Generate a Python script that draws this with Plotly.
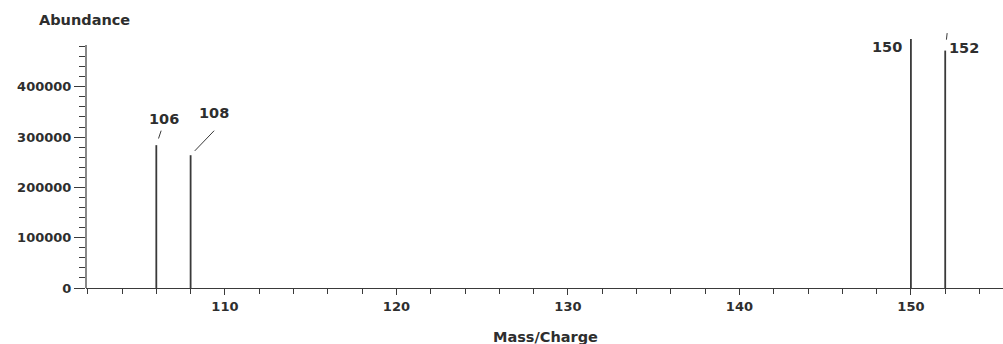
import plotly.graph_objects as go

# ---- data ----
mz = [106, 108, 150, 152]
abundance = [284000, 264000, 495000, 472000]
peak_labels = ["106", "108", "150", "152"]

x_major = [110, 120, 130, 140, 150]
x_minor = list(range(102, 156, 2))
y_major = [0, 100000, 200000, 300000, 400000]
y_minor = [v for v in range(20000, 500000, 20000) if v % 100000 != 0]

LINE = "#3a3a3a"
TXT = "#2e2e2e"
FONT = "DejaVu Sans"

xs, ys = [], []
for m, a in zip(mz, abundance):
    xs += [m, m, None]
    ys += [0, a, None]

fig = go.Figure()
fig.add_trace(go.Scatter(x=xs, y=ys, mode="lines",
                         line=dict(color=LINE, width=1.8),
                         hoverinfo="skip", showlegend=False))

# label placement (pixel offsets, styling only)
label_style = {
    "106": dict(xanchor="center", xshift=8, yshift=26),
    "108": dict(xanchor="center", xshift=23, yshift=42),
    "150": dict(xanchor="right", xshift=-7, yshift=-8),
    "152": dict(xanchor="left", xshift=2, yshift=3),
}
leader_style = {
    "106": dict(ax=5, ay=-15, standoff=7),
    "108": dict(ax=24, ay=-25, standoff=6),
    "152": dict(ax=2, ay=-18, standoff=11),
}

annotations = []
for m, a, lab in zip(mz, abundance, peak_labels):
    st = label_style[lab]
    annotations.append(dict(x=m, y=a, xref="x", yref="y", text="<b>" + lab + "</b>",
                            showarrow=False, yanchor="middle",
                            font=dict(family=FONT, size=14.5, color=TXT),
                            **st))
    if lab in leader_style:
        ls = leader_style[lab]
        annotations.append(dict(x=m, y=a, xref="x", yref="y", text="",
                                showarrow=True, arrowhead=0, arrowwidth=1,
                                arrowcolor=LINE, axref="pixel", ayref="pixel",
                                borderpad=0, **ls))

annotations.append(dict(x=-0.002, y=1.0635, xref="paper", yref="paper",
                        text="<b>Abundance</b>", showarrow=False,
                        xanchor="center", yanchor="middle",
                        font=dict(family=FONT, size=14.5, color=TXT)))
annotations.append(dict(x=0.5016, y=-0.194, xref="paper", yref="paper",
                        text="<b>Mass/Charge</b>", showarrow=False,
                        xanchor="center", yanchor="middle",
                        font=dict(family=FONT, size=14.5, color=TXT)))

tickfont = dict(family=FONT, size=13, color=TXT, weight="bold")

fig.update_layout(
    width=1003, height=344,
    margin=dict(l=86, r=0, t=36, b=56),
    paper_bgcolor="white", plot_bgcolor="white",
    showlegend=False,
    annotations=annotations,
    shapes=[dict(type="line", xref="paper", yref="y", x0=0, x1=0,
                 y0=0, y1=483000, line=dict(color=LINE, width=1.2),
                 layer="above")],
    xaxis=dict(range=[101.9, 155.37], showgrid=False, zeroline=False,
               showline=True, linecolor=LINE, linewidth=1.2,
               automargin=False,
               tickmode="array", tickvals=x_major, ticks="outside",
               ticklen=6, tickwidth=1.2, tickcolor=LINE,
               tickfont=tickfont,
               minor=dict(tickmode="array", tickvals=x_minor, ticks="outside",
                          ticklen=5, tickwidth=1.2, tickcolor=LINE)),
    yaxis=dict(range=[0, 501000], showgrid=False, zeroline=False,
               showline=False, automargin=False,
               tickmode="array", tickvals=y_major, tickformat="d",
               ticks="outside", ticklen=11, tickwidth=1.2, tickcolor=LINE,
               tickfont=tickfont,
               minor=dict(tickmode="array", tickvals=y_minor, ticks="outside",
                          ticklen=6, tickwidth=1, tickcolor=LINE)),
)

fig.write_html(
    "out.html",
    config={"displayModeBar": False},
    post_script="document.body.style.margin='0';document.body.style.padding='0';"
                "document.body.style.overflow='hidden';",
)
